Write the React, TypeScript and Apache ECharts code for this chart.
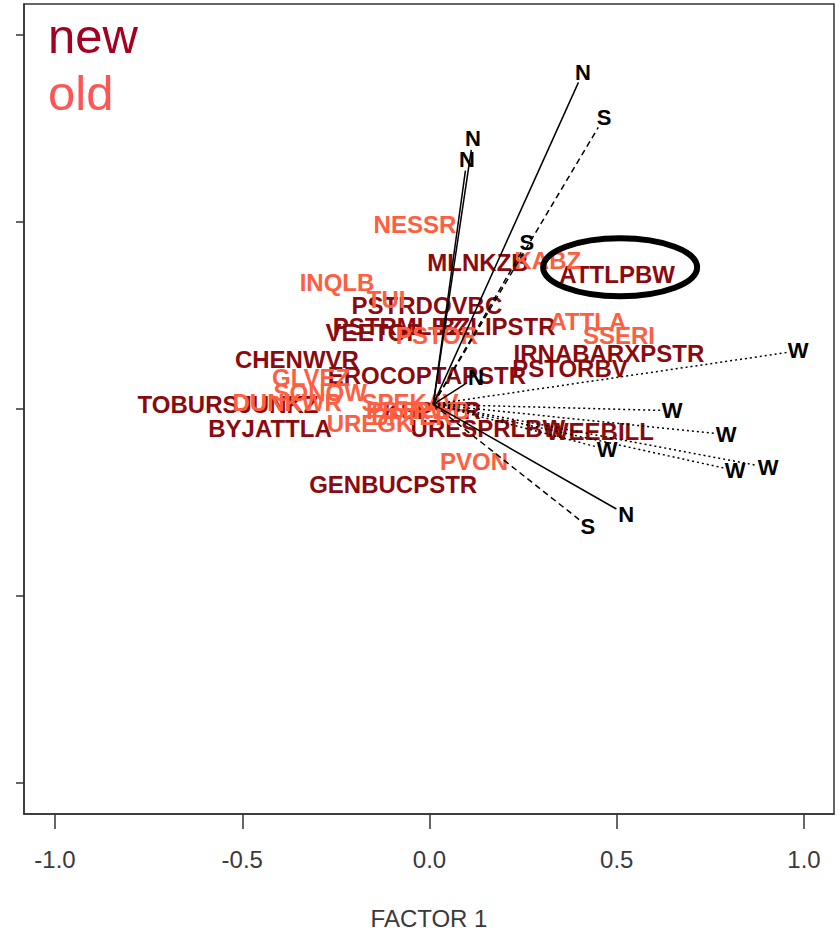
import React, { useEffect, useRef } from "react";
import * as echarts from "echarts";

// "new" group labels (scores)
const newNames = [
  "ATTLPBW", "MLNKZB", "PSTRDOVBC", "PSTRMLBZ", "BZLIPSTR", "VEETOP", "CHENWVR",
  "EROCOPTAPSTR", "IRNABARXPSTR", "PSTORBV", "TOBURSJUNKZ", "BYJATTLA",
  "URESPRLBW", "WEEBILL", "GENBUCPSTR", "KSPSTR",
];
const newX = [0.501, 0.1295, -0.007, -0.084, 0.18, -0.148, -0.354, -0.007, 0.479, 0.375, -0.538, -0.426, 0.156, 0.455, -0.097, 0.007];
const newY = [0.36, 0.392, 0.277, 0.221, 0.221, 0.205, 0.133, 0.088, 0.147, 0.107, 0.011, -0.053, -0.053, -0.061, -0.203, -0.005];

// "old" group labels (scores)
const oldNames = [
  "NESSR", "INQLB", "TUI", "KABZ", "ATTLA", "SSERI", "PSTOR", "GLVEZ", "SONOW",
  "DUNKWR", "SPEKAV", "PSTRWB", "BPTER", "UREGK", "PVON",
];
const oldX = [-0.039, -0.247, -0.116, 0.316, 0.423, 0.506, 0.02, -0.316, -0.292, -0.38, -0.052, -0.031, -0.047, -0.159, 0.119];
const oldY = [0.493, 0.339, 0.293, 0.397, 0.235, 0.197, 0.195, 0.083, 0.045, 0.016, 0.016, -0.005, -0.021, -0.04, -0.141];

// loading vectors (tips)
const vecLabels = ["N", "S", "N", "N", "S", "N", "N", "S", "W", "W", "W", "W", "W", "W"];
const vecX = [0.41, 0.466, 0.116, 0.1, 0.26, 0.124, 0.525, 0.423, 0.984, 0.648, 0.792, 0.816, 0.904, 0.474];
const vecY = [0.901, 0.779, 0.723, 0.667, 0.445, 0.085, -0.283, -0.315, 0.155, -0.005, -0.069, -0.165, -0.157, -0.109];
const vecStyle = ["solid", "dashed", "solid", "solid", "dashed", "solid", "solid", "dashed", "dotted", "dotted", "dotted", "dotted", "dotted", "dotted"];
const vecOrigin = [0.01, 0.012];

const xTicks = [-1, -0.5, 0, 0.5, 1];
const yTicks = [-1, -0.5, 0, 0.5, 1];
const highlighted = "ATTLPBW";

const FONT = "'Liberation Sans', Arial, Helvetica, sans-serif";
const NEW_COLOR = "#8b0a0e";
const OLD_COLOR = "#ff5e40";

export default function App() {
  const ref = useRef<HTMLDivElement>(null);
  useEffect(() => {
    const chart = echarts.init(ref.current!, null, { renderer: "svg" });
    const dashFor = (s: string) => (s === "solid" ? "solid" : s === "dashed" ? [6, 4] : [2, 3]);
    const lineData = vecX.map((x, i) => {
      const dx = x - vecOrigin[0];
      const dy = vecY[i] - vecOrigin[1];
      const len = Math.hypot(dx, dy);
      const k = (len - 0.03) / len;
      return {
        coords: [vecOrigin, [vecOrigin[0] + dx * k, vecOrigin[1] + dy * k]],
        lineStyle: { type: dashFor(vecStyle[i]) },
      };
    });
    const labelStyle = (color: string) => ({
      show: true,
      position: "inside",
      formatter: "{b}",
      color,
      opacity: 1,
      fontSize: 24,
      fontWeight: "bold",
      fontFamily: FONT,
      textBorderWidth: 0,
    });
    const axisCommon = {
      type: "value",
      splitLine: { show: false },
      axisLine: { show: true, onZero: false, lineStyle: { color: "#333", width: 1.5 } },
    };
    chart.setOption({
      animation: false,
      grid: { left: 24, right: 6, top: 4, bottom: 118, show: true, borderColor: "#333", borderWidth: 1.5, containLabel: false },
      xAxis: {
        ...axisCommon,
        min: -1.0828,
        max: 1.0801,
        axisTick: { show: true, length: 15, customValues: xTicks, lineStyle: { color: "#333", width: 1.5 } },
        axisLabel: { customValues: xTicks, formatter: (v: number) => v.toFixed(1), fontSize: 24, color: "#3a3a3a", margin: 33, fontFamily: FONT },
        name: "FACTOR 1",
        nameLocation: "middle",
        nameGap: 92,
        nameTextStyle: { fontSize: 24, color: "#3a3a3a", fontFamily: FONT },
      },
      yAxis: {
        ...axisCommon,
        min: -1.0845,
        max: 1.0835,
        axisTick: { show: true, length: 8, customValues: yTicks, lineStyle: { color: "#333", width: 1.5 } },
        axisLabel: { show: false },
      },
      series: [
        {
          type: "scatter",
          name: "new",
          symbolSize: 0,
          silent: true,
          z: 2,
          itemStyle: { opacity: 1 },
          data: newNames.map((n, i) => ({ name: n, value: [newX[i], newY[i]] })),
          label: labelStyle(NEW_COLOR),
        },
        {
          type: "scatter",
          name: "old",
          symbolSize: 0,
          silent: true,
          z: 3,
          itemStyle: { opacity: 1 },
          data: oldNames.map((n, i) => ({ name: n, value: [oldX[i], oldY[i]] })),
          label: labelStyle(OLD_COLOR),
        },
        {
          type: "lines",
          coordinateSystem: "cartesian2d",
          silent: true,
          z: 4,
          symbol: "none",
          lineStyle: { color: "#000", width: 1.5, opacity: 1 },
          data: lineData,
        },
        {
          type: "scatter",
          name: "vectors",
          symbolSize: 0,
          silent: true,
          z: 5,
          itemStyle: { opacity: 1 },
          data: vecLabels.map((n, i) => ({ name: n, value: [vecX[i], vecY[i]] })),
          label: { show: true, position: "inside", formatter: "{b}", color: "#000", opacity: 1, fontSize: 22, fontWeight: "bold", fontFamily: FONT, textBorderWidth: 0 },
        },
      ],
    });
    const hi = newNames.indexOf(highlighted);
    const p = chart.convertToPixel({ gridIndex: 0 }, [newX[hi], newY[hi]]) as number[];
    chart.setOption({
      graphic: [
        { type: "text", x: 48, y: 36, z: 10, style: { text: "new", fontSize: 49, fontFamily: FONT, fill: "#a50021", verticalAlign: "middle" } },
        { type: "text", x: 48, y: 93, z: 10, style: { text: "old", fontSize: 49, fontFamily: FONT, fill: "#ff5555", verticalAlign: "middle" } },
        { type: "ellipse", z: 10, shape: { cx: p[0] + 3, cy: p[1] - 7, rx: 77, ry: 29 }, style: { fill: "none", stroke: "#000", lineWidth: 6 } },
      ],
    });
    return () => chart.dispose();
  }, []);
  return <div ref={ref} style={{ position: "absolute", left: 0, top: 0, width: 840, height: 935 }} />;
}
